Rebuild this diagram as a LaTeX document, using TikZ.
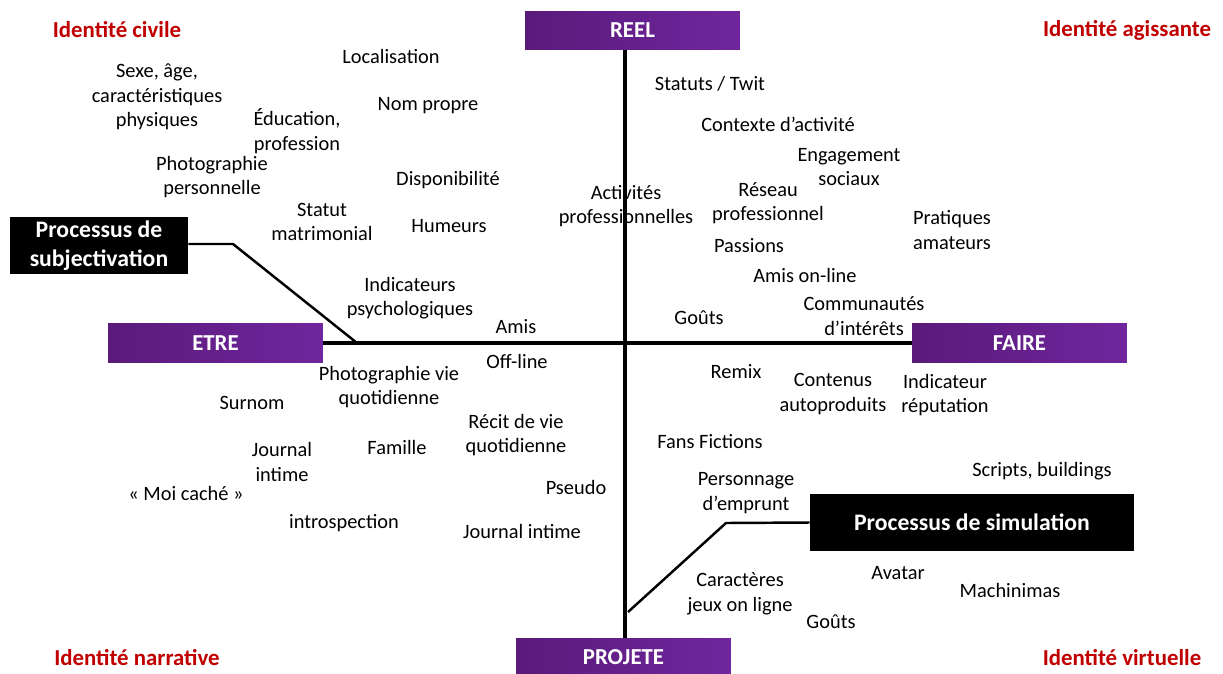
\documentclass[tikz,border=0pt]{standalone}
\usepackage{fontspec}
\setmainfont{Carlito}
\definecolor{purpdark}{RGB}{90,26,122}
\definecolor{purplight}{RGB}{112,38,158}
\definecolor{identred}{RGB}{192,0,0}
\tikzset{
	axisbox/.style={left color=purpdark, right color=purplight, minimum width=4.3cm,
		minimum height=0.78cm, inner sep=0pt, text=white,
		font=\fontsize{13}{15.6}\selectfont\bfseries},
	procbox/.style={fill=black, text=white, inner sep=0pt, align=center,
		font=\fontsize{13.5}{16.5}\selectfont\bfseries},
	ident/.style={text=identred, inner sep=0pt, font=\fontsize{13}{15.6}\selectfont\bfseries},
	item/.style={align=center, inner sep=0pt, font=\fontsize{11.6}{14}\selectfont},
	axe/.style={line width=2.8pt},
	link/.style={line width=1.4pt}
}
\begin{document}
	\begin{tikzpicture}[x=0.02cm, y=-0.02cm]
		\useasboundingbox (0,0) rectangle (1223,673);
		% coins
		\node[ident] (civile) at (117,30) {Identité civile};
		\node[ident] (agissante) at (1127,30) {Identité agissante};
		\node[ident] (narrative) at (137,658) {Identité narrative};
		\node[ident] (virtuelle) at (1122,658) {Identité virtuelle};
		% etre / reel
		\node[item] (loc) at (391,56) {Localisation};
		\node[item] (sexe) at (157,97) {Sexe, âge,\\caractéristiques\\physiques};
		\node[item] (nom) at (428,106) {Nom propre};
		\node[item] (educ) at (297,131) {Éducation,\\profession};
		\node[item] (photo) at (212,177) {Photographie\\personnelle};
		\node[item] (dispo) at (448,180) {Disponibilité};
		\node[item] (statut) at (322,222) {Statut\\matrimonial};
		\node[item] (humeurs) at (449,226) {Humeurs};
		\node[item] (psy) at (410,298) {Indicateurs\\psychologiques};
		\node[item] (amis) at (516,327) {Amis};
		\node[item] (offline) at (517,361) {Off-line};
		% faire / reel
		\node[item] (actpro) at (626,206) {Activités\\professionnelles};
		\node[item] (twit) at (710,84) {Statuts / Twit};
		\node[item] (contexte) at (778,124) {Contexte d’activité};
		\node[item] (engag) at (849,167) {Engagement\\sociaux};
		\node[item] (reseau) at (768,203) {Réseau\\professionnel};
		\node[item] (pratiques) at (952,230) {Pratiques\\amateurs};
		\node[item] (passions) at (749,246) {Passions};
		\node[item] (amison) at (805,275) {Amis on-line};
		\node[item] (commu) at (864,316) {Communautés\\d’intérêts};
		\node[item] (gouts) at (699,318) {Goûts};
		% faire / projete
		\node[item] (remix) at (736,372) {Remix};
		\node[item] (contenus) at (833,394) {Contenus\\autoproduits};
		\node[item] (reput) at (945,395) {Indicateur\\réputation};
		\node[item] (fans) at (710,442) {Fans Fictions};
		\node[item] (scripts) at (1042,471) {Scripts, buildings};
		\node[item] (perso) at (746,493) {Personnage\\d’emprunt};
		\node[item] (caract) at (740,594) {Caractères\\jeux on ligne};
		\node[item] (avatar) at (898,573) {Avatar};
		\node[item] (machin) at (1010,590) {Machinimas};
		\node[item] (goutsb) at (831,622) {Goûts};
		% etre / projete
		\node[item] (surnom) at (252,403) {Surnom};
		\node[item] (photovie) at (389,387) {Photographie vie\\quotidienne};
		\node[item] (recit) at (516,435) {Récit de vie\\quotidienne};
		\node[item] (journal) at (282,462) {Journal\\intime};
		\node[item] (famille) at (397,447) {Famille};
		\node[item] (moi) at (186,493) {« Moi caché »};
		\node[item] (pseudo) at (576,487) {Pseudo};
		\node[item] (intro) at (344,523) {introspection};
		\node[item] (journalb) at (522,531) {Journal intime};
		% axes
		\node[axisbox] (reel) at (632.5,30.5) {REEL};
		\node[axisbox] (etre) at (215.5,343) {ETRE};
		\node[axisbox] (faire) at (1019.5,343) {FAIRE};
		\node[axisbox] (projete) at (623.5,657.5) {PROJETE};
		\coordinate (vx) at (625,0);
		\draw[axe] (vx |- reel.south) -- (vx |- projete.north);
		\draw[axe] (etre.east) -- (faire.west);
		% processus
		\node[procbox, minimum width=3.56cm, minimum height=1.14cm] (subj) at (99,245.5) {Processus de\\subjectivation};
		\node[procbox, minimum width=6.48cm, minimum height=1.14cm] (simu) at (972,522.5) {Processus de simulation};
		\coordinate (sbend) at (233,244);
		\coordinate (sfoot) at (357,343);
		\coordinate (mbend) at (726,523);
		\coordinate (mfoot) at (628,612);
		\draw[link] (subj.east |- sbend) -- (sbend) -- (sfoot);
		\draw[link] (simu.west) -- (mbend) -- (mfoot);
	\end{tikzpicture}
\end{document}
